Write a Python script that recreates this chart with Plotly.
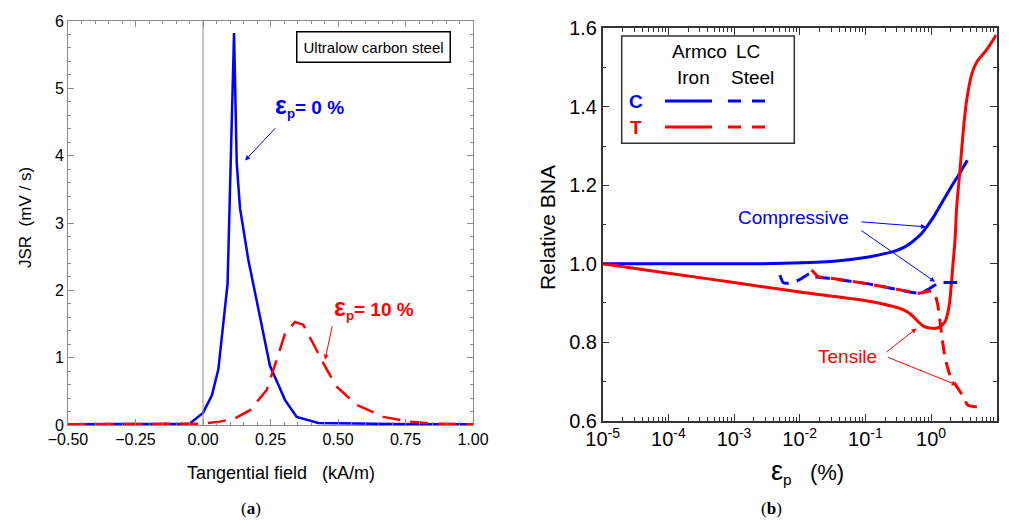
import numpy as np
import plotly.graph_objects as go

W, H = 1009, 520

# ---------------- Panel (a) data ----------------
a_x0 = [-0.50, -0.40, -0.30, -0.20, -0.10, -0.05, 0.00, 0.033, 0.057, 0.091, 0.115,
        0.125, 0.137, 0.168, 0.193, 0.248, 0.304, 0.347, 0.427, 0.55, 0.70, 0.85, 1.00]
a_y0 = [0.01, 0.01, 0.01, 0.01, 0.015, 0.02, 0.18, 0.44, 0.83, 2.10, 5.82,
        3.89, 3.22, 2.45, 1.96, 0.88, 0.37, 0.12, 0.03, 0.02, 0.015, 0.01, 0.01]

a_x10 = [-0.50, -0.30, -0.10, 0.00, 0.063, 0.120, 0.174, 0.236, 0.273, 0.304, 0.341,
         0.371, 0.408, 0.452, 0.495, 0.569, 0.668, 0.767, 0.853, 1.00]
a_y10 = [0.01, 0.01, 0.01, 0.02, 0.05, 0.10, 0.22, 0.52, 0.97, 1.36, 1.53,
         1.49, 1.21, 0.87, 0.57, 0.30, 0.12, 0.05, 0.02, 0.01]

# ---------------- Panel (b) data ----------------
b_armco_c_x = [1e-5, 1e-4, 1e-3, 2.5e-3, 0.0258, 0.0828, 0.117, 0.265, 0.4, 0.537, 0.7, 0.859,
               1.1, 1.54, 2.1, 2.76, 3.57]
b_armco_c_y = [1.0, 1.0, 1.0, 1.0, 1.005, 1.014, 1.018, 1.031, 1.043, 1.058, 1.075, 1.094,
               1.12, 1.162, 1.2, 1.232, 1.264]

b_armco_t_x = [1e-5, 1e-4, 1e-3, 1e-2, 0.083, 0.2, 0.337, 0.45, 0.537, 0.65, 0.764, 0.95, 1.15,
               1.4, 1.63, 1.8, 1.94, 2.14, 2.32, 2.46, 2.76, 3.1, 3.49, 4.2, 5.0, 7.0, 9.8]
b_armco_t_y = [1.0, 0.976, 0.952, 0.928, 0.908, 0.896, 0.886, 0.876, 0.865, 0.851, 0.841, 0.836, 0.835,
               0.840, 0.852, 0.875, 0.908, 0.992, 1.06, 1.145, 1.239, 1.34, 1.417, 1.485, 1.515, 1.545, 1.583]

b_lc_c_x = [0.005, 0.0056, 0.0065, 0.008, 0.0096, 0.012, 0.0145, 0.017, 0.03, 0.1, 0.3, 0.68, 0.95, 1.37, 1.8, 2.5]
b_lc_c_y = [0.971, 0.952, 0.950, 0.953, 0.958, 0.968, 0.975, 0.967, 0.962, 0.950, 0.935, 0.925, 0.937, 0.952, 0.952, 0.952]

b_lc_t_x = [0.0152, 0.0193, 0.03, 0.1, 0.3, 0.68, 0.9, 1.1, 1.25, 1.4, 1.6, 1.9, 2.3, 3.1, 3.6, 4.4, 5.8]
b_lc_t_y = [0.984, 0.967, 0.963, 0.950, 0.935, 0.925, 0.930, 0.928, 0.90, 0.84, 0.77, 0.72, 0.695, 0.661, 0.640, 0.636, 0.636]

log_ticks = [1e-5, 1e-4, 1e-3, 1e-2, 1e-1, 1e0, 1e1]
log_ticktext = ["10<sup>-5</sup>", "10<sup>-4</sup>", "10<sup>-3</sup>", "10<sup>-2</sup>",
                "10<sup>-1</sup>", "10<sup>0</sup>", "10<sup>1</sup>"]
log_minor = [k * 10.0 ** n for n in range(-5, 1) for k in range(2, 10)]

BLUE = "#0000FF"
RED = "#FF0000"
FONT = "Liberation Sans, Arial, sans-serif"
SERIF = "Liberation Serif, Times New Roman, serif"

def px2paper(px, py):
    return px / W, 1 - py / H

fig = go.Figure()

fig.add_trace(go.Scatter(x=a_x0, y=a_y0, mode="lines", line=dict(color=BLUE, width=2.5),
                         xaxis="x", yaxis="y", showlegend=False))
fig.add_trace(go.Scatter(x=a_x10, y=a_y10, mode="lines", line=dict(color=RED, width=2.5, dash="18px,10px"),
                         xaxis="x", yaxis="y", showlegend=False))

fig.add_trace(go.Scatter(x=b_armco_c_x, y=b_armco_c_y, mode="lines",
                         line=dict(color=BLUE, width=3, shape="spline", smoothing=0.6),
                         xaxis="x2", yaxis="y2", showlegend=False))
fig.add_trace(go.Scatter(x=b_armco_t_x, y=b_armco_t_y, mode="lines",
                         line=dict(color=RED, width=3, shape="spline", smoothing=0.6),
                         xaxis="x2", yaxis="y2", showlegend=False))
fig.add_trace(go.Scatter(x=b_lc_c_x, y=b_lc_c_y, mode="lines",
                         line=dict(color=BLUE, width=3, dash="14px,8px", shape="spline", smoothing=0.6),
                         xaxis="x2", yaxis="y2", showlegend=False))
fig.add_trace(go.Scatter(x=b_lc_t_x, y=b_lc_t_y, mode="lines",
                         line=dict(color=RED, width=3, dash="14px,8px", shape="spline", smoothing=0.6),
                         xaxis="x2", yaxis="y2", showlegend=False))

axA = dict(color="#000", linecolor="#8c8c8c", tickcolor="#8c8c8c", showgrid=False, zeroline=False,
           mirror="allticks", showline=True, ticks="inside", ticklen=6, linewidth=1, automargin=False,
           tickfont=dict(family=FONT, size=16, color="#000"))
axB = dict(color="#000", linecolor="#333", tickcolor="#333", showgrid=False, zeroline=False,
           mirror="allticks", showline=True, ticks="inside", ticklen=7, linewidth=1.5, automargin=False,
           tickfont=dict(family=FONT, size=20, color="#000"))

fig.update_layout(
    width=W, height=H, margin=dict(l=0, r=0, t=0, b=0, pad=0, autoexpand=False),
    paper_bgcolor="white", plot_bgcolor="white",
    font=dict(family=FONT, color="#000"),
    xaxis=dict(domain=[68 / W, 473 / W], anchor="y", range=[-0.5, 1.0], tick0=-0.5, dtick=0.25,
               tickformat=".2f",
               minor=dict(dtick=0.05, ticks="inside", ticklen=3, tickcolor="#8c8c8c"), **axA),
    yaxis=dict(domain=[1 - 425 / H, 1 - 21 / H], anchor="x", range=[0, 6], dtick=1,
               minor=dict(dtick=0.2, ticks="inside", ticklen=3, tickcolor="#8c8c8c"), **axA),
    xaxis2=dict(domain=[602.7 / W, 996.7 / W], anchor="y2", type="log", range=[-5, 1],
                tickvals=log_ticks, ticktext=log_ticktext,
                minor=dict(tickvals=log_minor, ticks="inside", ticklen=4, tickcolor="#333"), **axB),
    yaxis2=dict(domain=[1 - 420.7 / H, 1 - 28.3 / H], anchor="x2", range=[0.6, 1.6], dtick=0.2,
                tickformat=".1f",
                minor=dict(dtick=0.1, ticks="inside", ticklen=4, tickcolor="#333"), **axB),
)

# vertical reference line at x = 0 in panel (a)
fig.add_shape(type="line", xref="x", yref="y domain", x0=0, x1=0, y0=0, y1=1,
              line=dict(color="#8c8c8c", width=1))

ann = []

def ptext(px, py, text, size, family=FONT, color="#000", angle=0):
    xp, yp = px2paper(px, py)
    ann.append(dict(xref="paper", yref="paper", x=xp, y=yp, text=text, textangle=angle,
                    xanchor="center", yanchor="middle", showarrow=False,
                    font=dict(size=size, family=family, color=color)))

def arrow(xref, yref, x, y, ax, ay, color):
    ann.append(dict(xref=xref, yref=yref, x=x, y=y, ax=ax, ay=ay, axref=xref, ayref=yref, text="",
                    showarrow=True, arrowhead=2, arrowsize=1, arrowwidth=1, arrowcolor=color))

# axis titles panel (a)
ptext(25, 218, "JSR  (mV / s)", 17, angle=-90)
ptext(281, 473, "Tangential field   (kA/m)", 18)
ptext(251, 508, "(<b>a</b>)", 17, family=SERIF)
# box label
ann.append(dict(xref="x", yref="y", x=0.63, y=5.61, text="Ultralow carbon steel", showarrow=False,
                xanchor="center", yanchor="middle",
                font=dict(size=15, family=FONT), bordercolor="#000", borderwidth=1.5, borderpad=6,
                bgcolor="white"))
# epsilon labels panel (a)
EPS = "<span style='font-size:25px'>ε</span>"
ann.append(dict(xref="x", yref="y", x=0.259, y=4.74, xanchor="left", yanchor="middle",
                text="<b>" + EPS + "<sub>p</sub>= 0 %</b>",
                showarrow=False, font=dict(size=19, color=BLUE, family=FONT)))
arrow("x", "y", 0.156, 3.93, 0.273, 4.43, BLUE)
ann.append(dict(xref="x", yref="y", x=0.478, y=1.74, xanchor="left", yanchor="middle",
                text="<b>" + EPS + "<sub>p</sub>= 10 %</b>",
                showarrow=False, font=dict(size=19, color=RED, family=FONT)))
arrow("x", "y", 0.452, 0.97, 0.48, 1.49, RED)

# panel (b) titles
ptext(547, 228, "Relative BNA", 21, angle=-90)
ptext(807, 472, "<span style='font-size:27px'>ε</span><sub>p</sub>   (%)", 22)
ptext(771, 508, "(<b>b</b>)", 17, family=SERIF)

L = np.log10
# Compressive
ann.append(dict(xref="x2", yref="y2", x=L(0.00803), y=1.1166, text="Compressive", showarrow=False,
                xanchor="center", yanchor="middle", font=dict(size=19, color=BLUE, family=FONT)))
arrow("x2", "y2", L(0.837), 1.094, L(0.0828), 1.107, BLUE)
arrow("x2", "y2", L(1.15), 0.954, L(0.0828), 1.087, BLUE)
# Tensile
ann.append(dict(xref="x2", yref="y2", x=L(0.0543), y=0.764, text="Tensile", showarrow=False,
                xanchor="center", yanchor="middle", font=dict(size=19, color=RED, family=FONT)))
arrow("x2", "y2", L(0.6), 0.835, L(0.199), 0.772, RED)
arrow("x2", "y2", L(2.46), 0.691, L(0.21), 0.763, RED)

# Legend box (panel b)
x0p, y0p = px2paper(621.7, 143.3)
x1p, y1p = px2paper(794.3, 36)
fig.add_shape(type="rect", xref="paper", yref="paper", x0=x0p, y0=y0p, x1=x1p, y1=y1p,
              line=dict(color="#333", width=1.5), fillcolor="white")
for txt, px, py in [("Armco", 699, 52), ("LC", 748, 52), ("Iron", 693, 77), ("Steel", 752, 77)]:
    ptext(px, py, txt, 19)
for txt, col, py in [("C", BLUE, 102), ("T", RED, 127)]:
    ptext(636, py, "<b>" + txt + "</b>", 19, color=col)
for col, py in [(BLUE, 101), (RED, 127)]:
    a0, b0 = px2paper(665, py)
    a1, b1 = px2paper(712, py)
    fig.add_shape(type="line", xref="paper", yref="paper", x0=a0, y0=b0, x1=a1, y1=b1,
                  line=dict(color=col, width=3))
    a0, b0 = px2paper(728, py)
    a1, b1 = px2paper(767, py)
    fig.add_shape(type="line", xref="paper", yref="paper", x0=a0, y0=b0, x1=a1, y1=b1,
                  line=dict(color=col, width=3, dash="13px,11px"))

fig.update_layout(annotations=ann)

fig.write_html("out.html", post_script="document.body.style.margin='0';",
               config={"displayModeBar": False})
